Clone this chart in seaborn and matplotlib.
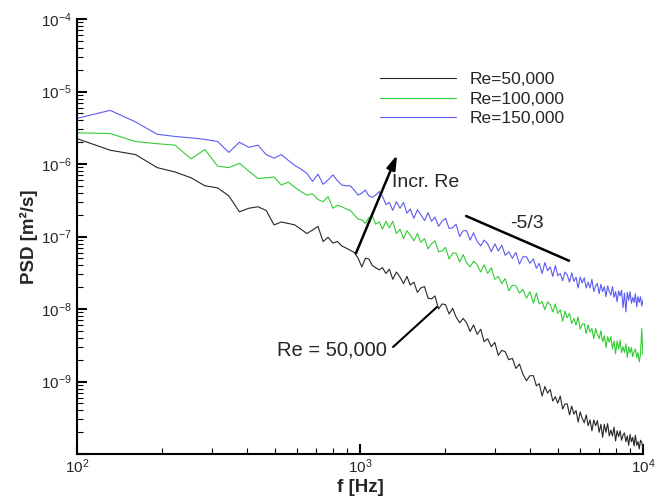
import numpy as np
import pandas as pd
import matplotlib
matplotlib.use("Agg")
import matplotlib.pyplot as plt
import seaborn as sns
from matplotlib.ticker import LogLocator, LogFormatterMathtext, NullFormatter, FuncFormatter

# ---------------- data ----------------
freq_hz = [
    100, 131, 161, 192, 222, 253, 283, 314, 344, 375, 405, 436, 466, 497, 527,
    558, 588, 619, 649, 680, 710, 741, 771, 802, 832, 863, 893, 924, 954, 985,
    1015, 1045, 1075, 1105, 1135, 1170, 1200, 1235, 1270, 1305, 1345, 1385, 1425,
    1465, 1505, 1550, 1595, 1640, 1690, 1740, 1790, 1840, 1895, 1950, 2005, 2065,
    2125, 2185, 2250, 2315, 2380, 2450, 2520, 2595, 2670, 2745, 2825, 2910, 2995,
    3080, 3170, 3260, 3355, 3455, 3555, 3660, 3765, 3875, 3985,
    4100, 4200, 4300, 4400, 4500, 4600, 4700, 4800, 4900, 5000, 5100, 5200, 5300,
    5400, 5500, 5600, 5700, 5800, 5900, 6000, 6100, 6200, 6300, 6400, 6500, 6600,
    6700, 6800, 6900, 7000, 7100, 7200, 7300, 7400, 7500, 7600, 7700, 7800, 7900,
    8000, 8100, 8200, 8300, 8400, 8500, 8600, 8700, 8800, 8900, 9000, 9100, 9200,
    9300, 9400, 9500, 9600, 9700, 9800, 9900, 9990,
]

# PSD values given as log10(PSD [m^2/s])
log10_psd_re50k = [
    -5.65, -5.81, -5.87, -6.05, -6.11, -6.19, -6.30, -6.33, -6.44, -6.66, -6.61,
    -6.59, -6.64, -6.84, -6.80, -6.82, -6.84, -6.90, -6.96, -6.91, -6.86, -7.07,
    -7.01, -7.09, -7.07, -7.13, -7.16, -7.19, -7.22, -7.30,
    -7.42, -7.30, -7.31, -7.40, -7.43, -7.46, -7.43, -7.51, -7.45, -7.59, -7.49,
    -7.56, -7.65, -7.55, -7.67, -7.63, -7.77, -7.71, -7.69, -7.85, -7.86, -7.82,
    -8.00, -7.93, -7.94, -8.07, -7.99, -8.11, -8.19, -8.13, -8.19, -8.31, -8.22,
    -8.35, -8.28, -8.45, -8.41, -8.52, -8.46, -8.64, -8.57, -8.59, -8.70, -8.68,
    -8.82, -8.76, -8.90, -8.99, -8.92,
    -8.92, -9.06, -9.03, -9.20, -9.07, -9.16, -9.11, -9.27, -9.21, -9.30, -9.20,
    -9.38, -9.31, -9.31, -9.46, -9.34, -9.45, -9.40, -9.56, -9.42, -9.51, -9.57,
    -9.46, -9.61, -9.53, -9.68, -9.53, -9.61, -9.54, -9.70, -9.59, -9.77, -9.59,
    -9.70, -9.58, -9.75, -9.67, -9.75, -9.63, -9.82, -9.68, -9.76, -9.68, -9.81,
    -9.74, -9.71, -9.83, -9.75, -9.88, -9.73, -9.83, -9.77, -9.89, -9.74, -9.88,
    -9.83, -9.93, -9.81, -9.84, -9.93,
]
log10_psd_re100k = [
    -5.57, -5.58, -5.69, -5.72, -5.74, -5.93, -5.80, -6.03, -6.05, -5.99, -6.10,
    -6.20, -6.19, -6.18, -6.29, -6.25, -6.32, -6.38, -6.43, -6.41, -6.49, -6.52,
    -6.45, -6.61, -6.57, -6.59, -6.62, -6.64, -6.70, -6.76,
    -6.77, -6.82, -6.74, -6.71, -6.83, -6.80, -6.90, -6.79, -6.88, -6.79, -6.96,
    -6.90, -7.03, -6.92, -6.98, -7.06, -6.96, -7.08, -7.03, -7.17, -7.10, -7.06,
    -7.21, -7.20, -7.15, -7.31, -7.23, -7.23, -7.35, -7.25, -7.36, -7.42, -7.34,
    -7.39, -7.49, -7.39, -7.51, -7.43, -7.59, -7.55, -7.65, -7.58, -7.75, -7.67,
    -7.68, -7.78, -7.73, -7.85, -7.76,
    -7.92, -7.78, -7.93, -7.90, -8.01, -7.90, -7.94, -8.04, -7.93, -8.06, -8.01,
    -8.17, -8.03, -8.12, -8.06, -8.20, -8.13, -8.22, -8.11, -8.28, -8.21, -8.20,
    -8.34, -8.22, -8.32, -8.27, -8.41, -8.27, -8.35, -8.41, -8.30, -8.45, -8.37,
    -8.53, -8.38, -8.46, -8.38, -8.55, -8.44, -8.62, -8.44, -8.55, -8.43, -8.60,
    -8.52, -8.60, -8.48, -8.67, -8.52, -8.61, -8.53, -8.66, -8.59, -8.55, -8.67,
    -8.60, -8.73, -8.62, -8.27, -8.63,
]
log10_psd_re150k = [
    -5.37, -5.26, -5.42, -5.59, -5.62, -5.64, -5.66, -5.69, -5.84, -5.70, -5.77,
    -5.74, -5.87, -5.92, -5.87, -5.95, -6.02, -6.07, -6.13, -6.24, -6.14, -6.28,
    -6.22, -6.15, -6.23, -6.29, -6.30, -6.30, -6.36, -6.43,
    -6.40, -6.36, -6.44, -6.46, -6.43, -6.38, -6.44, -6.56, -6.53, -6.64, -6.52,
    -6.61, -6.53, -6.68, -6.62, -6.75, -6.63, -6.70, -6.78, -6.67, -6.79, -6.73,
    -6.86, -6.79, -6.75, -6.89, -6.88, -6.83, -7.00, -6.92, -6.92, -7.05, -6.95,
    -7.07, -7.13, -7.05, -7.10, -7.21, -7.10, -7.20, -7.12, -7.26, -7.21, -7.30,
    -7.22, -7.38, -7.28, -7.28, -7.37,
    -7.31, -7.44, -7.37, -7.51, -7.36, -7.47, -7.42, -7.55, -7.40, -7.54, -7.51,
    -7.61, -7.49, -7.53, -7.63, -7.50, -7.62, -7.56, -7.71, -7.56, -7.64, -7.57,
    -7.71, -7.63, -7.71, -7.59, -7.76, -7.68, -7.65, -7.79, -7.66, -7.76, -7.69,
    -7.83, -7.68, -7.76, -7.81, -7.69, -7.84, -7.76, -7.90, -7.75, -7.82, -7.74,
    -7.98, -7.78, -8.04, -7.77, -7.88, -7.76, -7.92, -7.84, -7.91, -7.79, -7.97,
    -7.83, -7.91, -7.83, -7.96, -7.88,
]

series_labels = ["Re=50,000", "Re=100,000", "Re=150,000"]
series_colors = ["#262626", "#33cc33", "#5c5cf2"]

# ---------------- styling ----------------
sns.set_theme(style="ticks")
plt.rcParams["font.family"] = ["Liberation Sans", "DejaVu Sans"]
plt.rcParams["mathtext.fontset"] = "custom"
plt.rcParams["mathtext.rm"] = "Liberation Sans"
plt.rcParams["mathtext.it"] = "Liberation Sans:italic"
plt.rcParams["mathtext.bf"] = "Liberation Sans:bold"

frames = []
for lab, vals in zip(series_labels, [log10_psd_re50k, log10_psd_re100k, log10_psd_re150k]):
    frames.append(pd.DataFrame({"f": freq_hz, "psd": 10.0 ** np.array(vals), "series": lab}))
df = pd.concat(frames, ignore_index=True)

fig = plt.figure(figsize=(6.67, 4.97), dpi=100)
ax = fig.add_axes([77 / 667, 1 - 454 / 497, (643 - 77) / 667, (454 - 19) / 497])

sns.lineplot(data=df, x="f", y="psd", hue="series", hue_order=series_labels,
             palette=series_colors, estimator=None, sort=False, linewidth=0.8, ax=ax)

ax.set_xscale("log")
ax.set_yscale("log")
ax.set_xlim(1e2, 1e4)
ax.set_ylim(1e-10, 1e-4)

_logfmt = LogFormatterMathtext()


def y_fmt(v, pos):
    # the bottom decade is left unlabelled in the reference
    if v <= 1.01e-10:
        return ""
    return _logfmt(v, pos)


ax.xaxis.set_major_locator(LogLocator(base=10, numticks=10))
ax.xaxis.set_minor_locator(LogLocator(base=10, subs=np.arange(2, 10), numticks=10))
ax.yaxis.set_major_locator(LogLocator(base=10, numticks=12))
ax.yaxis.set_minor_locator(LogLocator(base=10, subs=np.arange(2, 10), numticks=12))
ax.xaxis.set_major_formatter(LogFormatterMathtext())
ax.yaxis.set_major_formatter(FuncFormatter(y_fmt))
ax.xaxis.set_minor_formatter(NullFormatter())
ax.yaxis.set_minor_formatter(NullFormatter())

ax.tick_params(which="major", direction="in", length=7.5, width=1.5, labelsize=11, color="black")
ax.tick_params(which="minor", direction="in", length=4.3, width=0.8, color="black")
ax.tick_params(axis="y", which="major", pad=3.5)
ax.tick_params(axis="x", which="major", pad=2.5)

for side in ["top", "right"]:
    ax.spines[side].set_visible(False)
for side in ["left", "bottom"]:
    ax.spines[side].set_linewidth(1.5)
    ax.spines[side].set_color("black")

ax.set_xlabel("f [Hz]", fontsize=13.5, fontweight="bold", labelpad=2)
ax.set_ylabel("PSD [m²/s]", fontsize=13.5, fontweight="bold", labelpad=2)

# annotations
ax.annotate("", xy=(1352, 1.33e-6), xytext=(968, 5.9e-8),
            arrowprops=dict(arrowstyle="-|>,head_length=0.7,head_width=0.22",
                            lw=1.8, color="black", shrinkA=0, shrinkB=0))
ax.text(1297, 10 ** -6.262, "Incr. Re", fontsize=14, va="center", ha="left")

ax.plot([1309, 1871], [10 ** -8.524, 10 ** -7.972], color="black", lw=1.5)
ax.text(508, 10 ** -8.566, "Re = 50,000", fontsize=14.5, va="center", ha="left")

ax.plot([2370, 5477], [10 ** -6.717, 10 ** -7.334], color="black", lw=1.8)
ax.text(3388, 10 ** -6.814, "-5/3", fontsize=14, va="center", ha="left")

sns.move_legend(ax, "upper left", bbox_to_anchor=(0.535, 0.878), frameon=False, title=None,
                fontsize=12.5, handlelength=4.4, handletextpad=0.75, labelspacing=0.25,
                borderpad=0, borderaxespad=0)

fig.savefig("out.png", dpi=100)
